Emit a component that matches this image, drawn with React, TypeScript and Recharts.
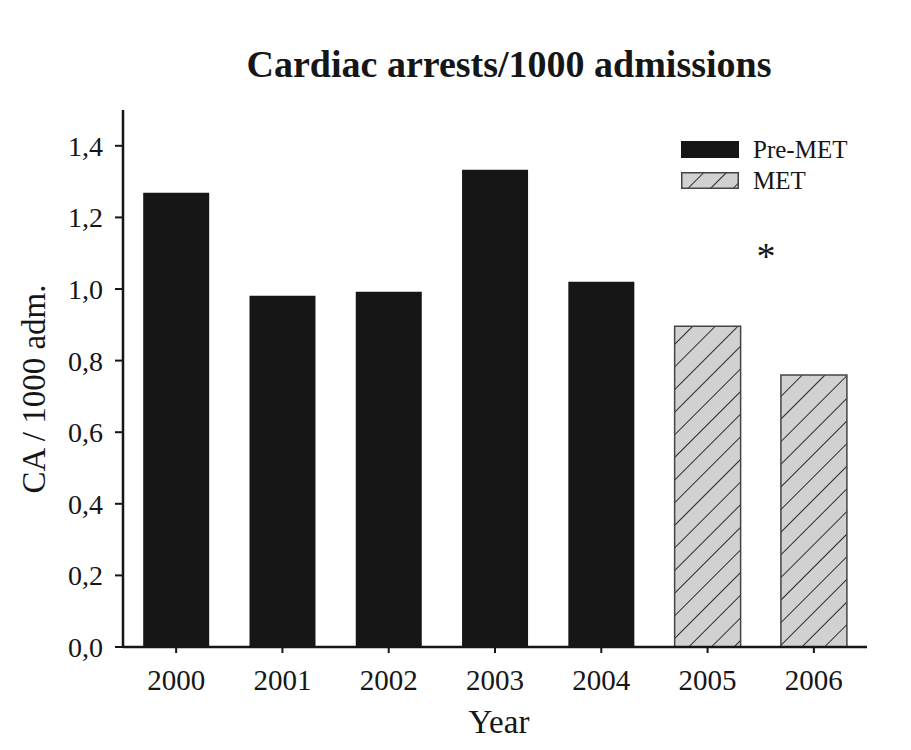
import { BarChart, Bar, XAxis, YAxis, Legend } from "recharts";

const years = ["2000", "2001", "2002", "2003", "2004", "2005", "2006"];
const preMet = [1.269, 0.981, 0.992, 1.333, 1.02, null, null];
const met = [null, null, null, null, null, 0.896, 0.76];
const yTicks = [0, 0.2, 0.4, 0.6, 0.8, 1.0, 1.2, 1.4];
const legendOrder = ["Pre-MET", "MET"];

const data = years.map((year, i) => ({ year, preMet: preMet[i], met: met[i] }));

const serif = '"Liberation Serif", "Times New Roman", serif';
const ink = "#161616";

function LegendBox({ payload }: any) {
  const items = [...(payload || [])].sort(
    (a: any, b: any) => legendOrder.indexOf(a.value) - legendOrder.indexOf(b.value)
  );
  return (
    <div style={{ fontFamily: serif, fontSize: 25, color: ink }}>
      {items.map((p: any) => (
        <div key={p.value} style={{ display: "flex", alignItems: "center", height: 31 }}>
          <svg width={58} height={17} style={{ marginRight: 14 }}>
            <rect
              x={0.75}
              y={0.75}
              width={56.5}
              height={15.5}
              fill={p.color}
              stroke={p.value === "MET" ? "#444" : ink}
              strokeWidth={1.5}
            />
          </svg>
          <span>{p.value}</span>
        </div>
      ))}
    </div>
  );
}

export default function App() {
  return (
    <div style={{ position: "relative", width: 911, height: 750, margin: -8, background: "#fff" }}>
      <BarChart
        width={911}
        height={750}
        data={data}
        margin={{ top: 110, right: 44, left: 63, bottom: 43 }}
        barCategoryGap="19%"
      >
        <defs>
          <pattern id="hatch" width={16} height={16} patternUnits="userSpaceOnUse" patternTransform="rotate(45)">
            <rect width={16} height={16} fill="#d0d1d0" />
            <line x1={0} y1={0} x2={0} y2={16} stroke="#1a1a1a" strokeWidth={1.8} />
          </pattern>
        </defs>
        <XAxis
          dataKey="year"
          interval={0}
          tickSize={6}
          tickMargin={16}
          height={60}
          axisLine={{ stroke: ink, strokeWidth: 2.5 }}
          tickLine={{ stroke: ink, strokeWidth: 2 }}
          tick={{ fill: ink, fontSize: 29, fontFamily: serif }}
        />
        <YAxis
          domain={[0, 1.5]}
          ticks={yTicks}
          width={60}
          tickSize={8}
          tickMargin={12}
          tickFormatter={(v: number) => v.toFixed(1).replace(".", ",")}
          axisLine={{ stroke: ink, strokeWidth: 2.5 }}
          tickLine={{ stroke: ink, strokeWidth: 2 }}
          tick={{ fill: ink, fontSize: 28, fontFamily: serif }}
        />
        <Legend
          content={<LegendBox />}
          wrapperStyle={{ position: "absolute", left: 681, top: 134, width: 200, height: 0, overflow: "visible" }}
        />
        <Bar dataKey="preMet" name="Pre-MET" stackId="s" fill={ink} isAnimationActive={false} />
        <Bar
          dataKey="met"
          name="MET"
          stackId="s"
          fill="url(#hatch)"
          stroke="#444"
          strokeWidth={1.5}
          isAnimationActive={false}
        />
      </BarChart>
      <svg
        width={911}
        height={750}
        style={{ position: "absolute", left: 0, top: 0, pointerEvents: "none" }}
        fontFamily={serif}
        fill={ink}
      >
        <text x={509} y={77} textAnchor="middle" fontSize={38} fontWeight="bold">
          Cardiac arrests/1000 admissions
        </text>
        <text transform="translate(45,389) rotate(-90)" textAnchor="middle" fontSize={33}>
          CA / 1000 adm.
        </text>
        <text x={499} y={733} textAnchor="middle" fontSize={33}>
          Year
        </text>
        <text x={766} y={269} textAnchor="middle" fontSize={38}>
          *
        </text>
      </svg>
    </div>
  );
}
